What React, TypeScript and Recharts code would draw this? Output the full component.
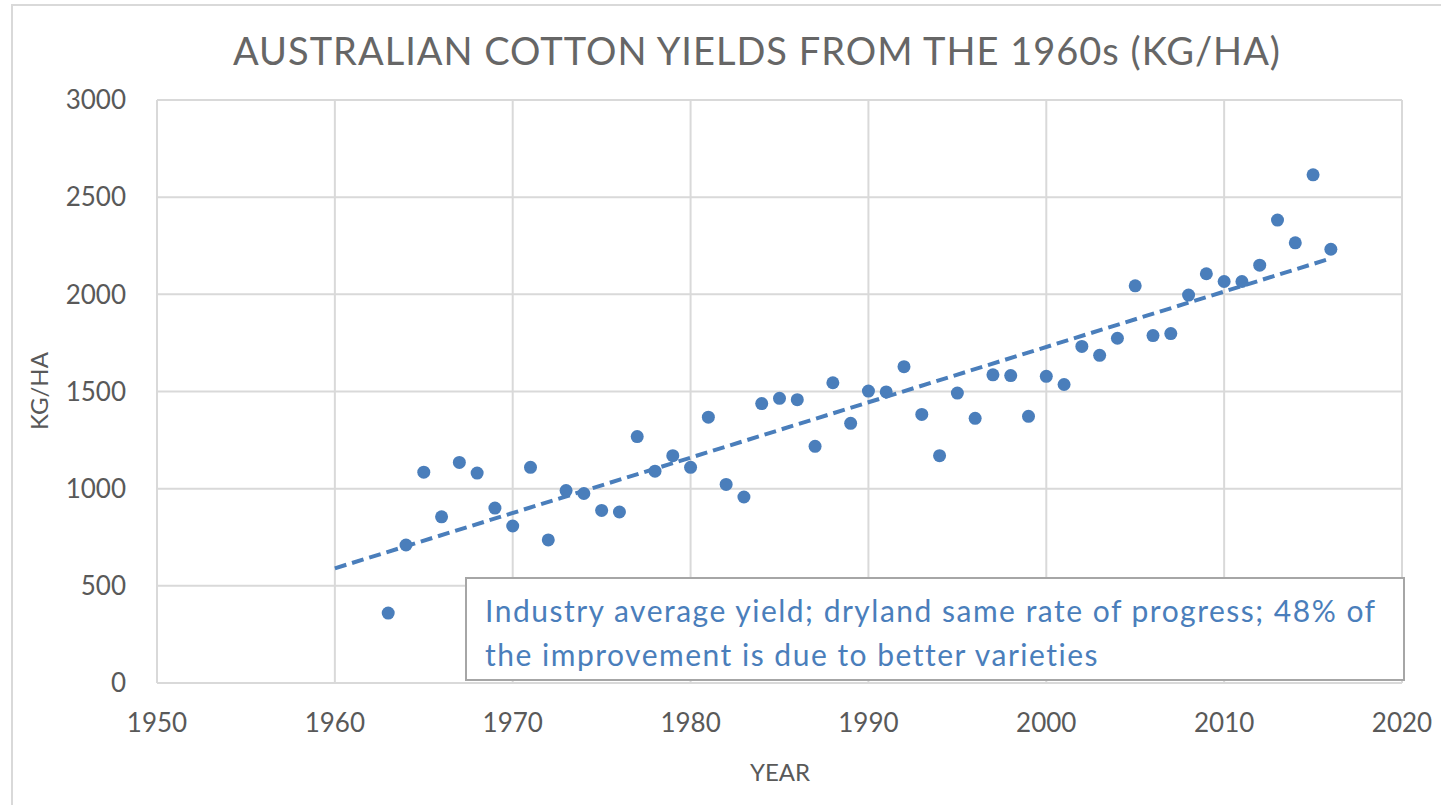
import React from "react";
import {
  ScatterChart,
  Scatter,
  XAxis,
  YAxis,
  CartesianGrid,
  ReferenceLine,
} from "recharts";

const years = [
  1963, 1964, 1965, 1966, 1967, 1968, 1969, 1970, 1971, 1972, 1973, 1974, 1975,
  1976, 1977, 1978, 1979, 1980, 1981, 1982, 1983, 1984, 1985, 1986, 1987, 1988,
  1989, 1990, 1991, 1992, 1993, 1994, 1995, 1996, 1997, 1998, 1999, 2000, 2001,
  2002, 2003, 2004, 2005, 2006, 2007, 2008, 2009, 2010, 2011, 2012, 2013, 2014,
  2015, 2016,
];

const yields = [
  360, 710, 1085, 855, 1135, 1080, 900, 808, 1110, 736, 990, 975, 888, 880,
  1268, 1090, 1170, 1110, 1368, 1022, 957, 1438, 1465, 1458, 1218, 1545, 1336,
  1502, 1498, 1628, 1382, 1170, 1492, 1362, 1586, 1582, 1372, 1578, 1536, 1732,
  1686, 1774, 2044, 1788, 1798, 1996, 2106, 2066, 2066, 2150, 2382, 2265, 2615,
  2232,
];

const trendYears = [1960, 2016];
const trendYields = [590, 2185];

const xTicks = [1950, 1960, 1970, 1980, 1990, 2000, 2010, 2020];
const yTicks = [0, 500, 1000, 1500, 2000, 2500, 3000];

const title = "AUSTRALIAN COTTON YIELDS FROM THE 1960s (KG/HA)";
const note = [
  "Industry average yield; dryland same rate of progress; 48% of",
  "the improvement is due to better varieties",
];

const blue = "#4A7EBB";
const gray = "#595959";
const grid = "#D9D9D9";
const font = "Lato, 'Open Sans', sans-serif";

const points = years.map((year, i) => ({ year, kg: yields[i] }));

const Dot = (props: any) => (
  <circle cx={props.cx} cy={props.cy} r={6.5} fill={blue} />
);

export default function App() {
  return (
    <div
      style={{
        position: "absolute",
        left: 0,
        top: 0,
        width: 1441,
        height: 805,
        background: "#fff",
        overflow: "hidden",
        fontFamily: font,
      }}
    >
      <div
        style={{
          position: "absolute",
          left: 11,
          top: 4,
          width: 1460,
          height: 830,
          border: `2px solid ${grid}`,
        }}
      />
      <div style={{ position: "absolute", left: 0, top: 0 }}>
        <ScatterChart
          width={1441}
          height={805}
          margin={{ top: 100, right: 39, bottom: 0, left: 0 }}
        >
          <CartesianGrid stroke={grid} strokeWidth={2} />
          <XAxis
            type="number"
            dataKey="year"
            domain={[1950, 2020]}
            ticks={xTicks}
            height={122}
            tickLine={false}
            tickSize={0}
            tickMargin={31}
            axisLine={{ stroke: grid, strokeWidth: 2 }}
            tick={{ fill: gray, fontSize: 26, fontFamily: font }}
            allowDataOverflow
          />
          <YAxis
            type="number"
            dataKey="kg"
            domain={[0, 3000]}
            ticks={yTicks}
            width={157}
            tickLine={false}
            tickSize={0}
            tickMargin={31}
            axisLine={false}
            tick={{ fill: gray, fontSize: 26, fontFamily: font }}
          />
          <ReferenceLine
            segment={[
              { x: trendYears[0], y: trendYields[0] },
              { x: trendYears[1], y: trendYields[1] },
            ]}
            stroke={blue}
            strokeWidth={4}
            strokeDasharray="12 6"
          />
          <Scatter data={points} shape={Dot} isAnimationActive={false} />
        </ScatterChart>
      </div>
      <div
        style={{
          position: "absolute",
          left: 0,
          width: 1514,
          top: 27,
          textAlign: "center",
          fontSize: 38,
          letterSpacing: 1,
          color: "#666666",
          whiteSpace: "nowrap",
        }}
      >
        {title}
      </div>
      <div
        style={{
          position: "absolute",
          left: 38,
          top: 391,
          transform: "translate(-50%, -50%) rotate(-90deg)",
          fontSize: 24,
          color: gray,
          whiteSpace: "nowrap",
        }}
      >
        KG/HA
      </div>
      <div
        style={{
          position: "absolute",
          left: 780,
          top: 771,
          transform: "translate(-50%, -50%)",
          fontSize: 24,
          color: gray,
        }}
      >
        YEAR
      </div>
      <div
        style={{
          position: "absolute",
          left: 465,
          top: 577,
          width: 936,
          height: 100,
          border: "2px solid #A6A6A6",
          background: "#fff",
          boxSizing: "content-box",
        }}
      >
        <div
          style={{
            position: "absolute",
            left: 18,
            top: 9,
            fontSize: 30,
            letterSpacing: 1.5,
            lineHeight: "44px",
            color: blue,
            whiteSpace: "nowrap",
          }}
        >
          {note.map((l) => (
            <div key={l}>{l}</div>
          ))}
        </div>
      </div>
    </div>
  );
}
